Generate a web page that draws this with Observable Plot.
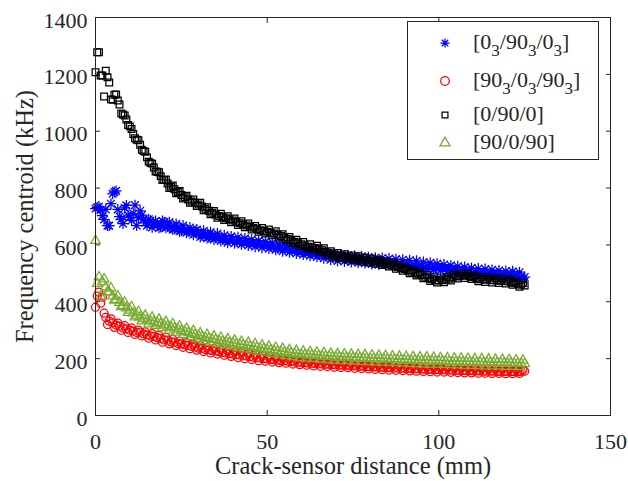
<!DOCTYPE html>
<html>
<head>
<meta charset="utf-8">
<script src="https://cdn.jsdelivr.net/npm/d3@7"></script>
<script src="https://cdn.jsdelivr.net/npm/@observablehq/plot@0.6"></script>
<style>
  html, body { margin: 0; padding: 0; background: #ffffff; }
  #chart { width: 628px; height: 481px; position: relative; }
</style>
</head>
<body>
<div id="chart"></div>
<script>
// ---------- data ----------
// sample positions (mm): whole millimetres and the half-millimetre samples between them
const distance = [0,1,2,3,4,5,6,7,8,9,10,11,12,13,14,15,16,17,18,19,20,21,22,23,24,25,26,27,28,29,30,31,32,33,34,35,36,37,38,39,40,41,42,43,44,45,46,47,48,49,50,51,52,53,54,55,56,57,58,59,60,61,62,63,64,65,66,67,68,69,70,71,72,73,74,75,76,77,78,79,80,81,82,83,84,85,86,87,88,89,90,91,92,93,94,95,96,97,98,99,100,101,102,103,104,105,106,107,108,109,110,111,112,113,114,115,116,117,118,119,120,121,122,123,124,125];
const distanceHalf = [0.5,1.5,2.5,3.5,4.5,5.5,6.5,7.5,8.5,9.5,10.5,11.5,12.5,13.5,14.5,15.5,16.5,17.5,18.5,19.5,20.5,21.5,22.5,23.5,24.5,25.5,26.5,27.5,28.5,29.5,30.5,31.5,32.5,33.5,34.5,35.5,36.5,37.5,38.5,39.5,40.5,41.5,42.5,43.5,44.5,45.5,46.5,47.5,48.5,49.5,50.5,51.5,52.5,53.5,54.5,55.5,56.5,57.5,58.5,59.5,60.5,61.5,62.5,63.5,64.5,65.5,66.5,67.5,68.5,69.5,70.5,71.5,72.5,73.5,74.5,75.5,76.5,77.5,78.5,79.5,80.5,81.5,82.5,83.5,84.5,85.5,86.5,87.5,88.5,89.5,90.5,91.5,92.5,93.5,94.5,95.5,96.5,97.5,98.5,99.5,100.5,101.5,102.5,103.5,104.5,105.5,106.5,107.5,108.5,109.5,110.5,111.5,112.5,113.5,114.5,115.5,116.5,117.5,118.5,119.5,120.5,121.5,122.5,123.5,124.5];

// [0_3/90_3/0_3]  (kHz)
const seriesA = [728,735,703,725,668,780,790,700,675,739,697,710,668,720,690,668,685,672,675,663,680,668,660,657,662,650,655,648,645,650,640,633,638,627,630,625,628,620,622,617,619,613,615,610,612,606,608,603,605,600,601,596,594,589,591,586,588,582,583,578,579,574,575,570,571,566,567,562,560,557,555,556,552,553,549,550,547,548,545,546,543,544,541,540,538,539,535,536,532,533,530,531,527,528,525,526,522,523,520,521,517,518,514,515,511,512,509,510,506,507,503,504,501,502,499,500,497,498,495,496,494,495,491,492,489,487];
const seriesAHalf = [732,722,690,668,745,786,725,690,730,705,686,740,695,705,678,690,662,684,660,684,660,680,654,674,648,668,643,661,636,654,628,650,624,645,619,640,614,634,608,630,606,627,602,623,598,619,594,615,590,612,587,608,583,603,578,598,574,594,570,590,566,586,562,582,558,577,553,573,548,568,544,566,542,564,540,562,538,560,536,557,533,555,531,554,530,552,528,550,526,548,524,546,522,544,520,540,516,537,513,534,510,531,507,528,504,525,501,522,498,519,495,517,493,515,491,512,489,510,487,508,486,507,484,504,482];
// [90_3/0_3/90_3]
const seriesB = [381,434,416,345,332,326,318,314,308,305,300,297,292,293,287,284,280,278,274,271,266,265,259,258,253,252,248,247,243,241,237,236,232,231,228,227,224,222,220,218,216,214,213,210,209,207,205,203,202,200,199,197,196,195,193,193,191,190,189,187,187,186,184,184,183,182,181,180,180,179,178,177,177,176,175,175,174,173,173,172,171,171,170,170,169,168,168,167,167,166,166,165,165,164,164,163,163,162,162,161,161,161,160,160,159,159,159,158,158,158,157,157,157,156,156,156,156,155,155,155,155,154,154,154,155,156];
const seriesBHalf = [420,395,360,320,340,310,325,300,316,292,308,285,300,280,294,272,288,266,282,258,275,252,268,246,262,240,256,235,251,230,246,225,240,220,236,216,232,212,228,208,224,204,221,200,217,197,213,193,210,191,207,188,204,186,201,184,199,181,196,179,194,177,192,175,190,173,189,172,187,170,186,169,184,168,183,166,182,165,180,164,179,162,178,161,177,160,176,159,175,158,174,157,173,156,172,155,171,154,170,153,169,153,168,152,167,151,167,150,166,150,165,149,165,149,164,148,164,148,163,147,163,147,162,148,160];
// [0/90/0]
const seriesC = [1207,1278,1196,1213,1171,1111,1129,1094,1059,1041,1017,990,970,952,930,908,888,872,857,842,828,816,805,796,786,776,768,760,753,748,742,735,727,720,713,707,702,698,694,690,686,681,676,672,668,664,660,656,652,649,646,643,640,636,631,626,621,616,611,606,602,598,594,591,589,587,581,575,571,567,564,562,560,558,556,555,553,551,549,547,545,543,541,538,536,534,530,526,522,519,515,511,506,502,498,494,488,483,479,476,475,476,478,481,485,489,491,492,492,490,486,482,479,478,478,477,476,475,474,473,472,469,466,463,460,457];
const seriesCHalf = [1278,1196,1122,1190,1112,1128,1108,1062,1055,1022,1008,975,968,935,928,893,886,858,856,828,830,800,809,782,790,763,773,748,760,737,748,722,733,708,719,696,710,688,701,680,693,670,683,662,675,654,667,646,660,640,654,634,648,626,638,616,628,606,618,596,610,588,602,582,597,576,588,565,578,557,572,553,567,549,563,546,560,542,556,538,552,534,548,529,543,524,536,516,529,509,521,500,512,492,504,483,494,473,486,468,483,469,487,475,495,482,499,484,499,480,492,472,486,470,485,468,483,466,481,464,478,460,472,453,466];
// [90/0/90]
const seriesD = [615,487,470,452,434,420,408,397,387,378,370,360,352,346,340,336,332,329,326,322,318,314,311,307,304,298,295,291,288,284,280,277,274,271,268,266,263,261,258,256,254,251,249,247,245,243,241,239,236,234,232,230,228,226,224,222,220,219,217,215,214,213,213,212,211,210,209,208,207,206,205,205,204,204,203,203,202,202,201,201,200,200,199,199,198,198,197,197,196,196,195,195,194,194,193,193,193,192,192,191,191,191,190,190,189,189,189,188,188,188,187,187,187,186,186,186,185,185,185,184,184,184,183,183,183,182];
const seriesDHalf = [464,420,480,435,448,405,420,382,398,362,382,346,365,332,352,322,345,316,338,308,330,300,322,293,314,284,306,277,298,270,290,263,284,257,279,252,274,247,269,243,264,238,260,234,256,230,252,226,247,222,243,218,239,214,235,210,231,206,228,203,226,201,224,200,222,198,220,196,218,194,217,193,216,192,215,191,214,190,213,189,212,188,211,187,210,186,209,185,208,184,207,183,206,182,205,181,205,180,204,179,203,179,202,178,201,177,201,176,200,176,199,175,199,174,198,174,197,173,197,172,196,172,195,171,194];

const xTicks = [0, 50, 100, 150];
const yTicks = [0, 200, 400, 600, 800, 1000, 1200, 1400];
const xLabel = "Crack-sensor distance (mm)";
const yLabel = "Frequency centroid (kHz)";

// legend labels: [text, isSubscript] parts
const legendLabels = [
  [["[0", 0], ["3", 1], ["/90", 0], ["3", 1], ["/0", 0], ["3", 1], ["]", 0]],
  [["[90", 0], ["3", 1], ["/0", 0], ["3", 1], ["/90", 0], ["3", 1], ["]", 0]],
  [["[0/90/0]", 0]],
  [["[90/0/90]", 0]]
];
const colors = ["#0000ff", "#ff0000", "#000000", "#77ac30"];

// ---------- symbols ----------
const asterisk8 = {
  draw(ctx, size) {
    const r = Math.sqrt(size / Math.PI);
    const d = r * Math.SQRT1_2;
    ctx.moveTo(-r, 0); ctx.lineTo(r, 0);
    ctx.moveTo(0, -r); ctx.lineTo(0, r);
    ctx.moveTo(-d, -d); ctx.lineTo(d, d);
    ctx.moveTo(-d, d); ctx.lineTo(d, -d);
  }
};
const symbols = [asterisk8, d3.symbolCircle, d3.symbolSquare, d3.symbolTriangle];
const radii = [5.5, 4, 3.8, 3.6];
const series = [[seriesA, seriesAHalf], [seriesB, seriesBHalf], [seriesC, seriesCHalf], [seriesD, seriesDHalf]];

const ink = "#262626";
const font = "'Liberation Serif', 'Times New Roman', serif";

const dotMarks = series.flatMap(([whole, half], i) => [
  Plot.dot(distance, { x: distance, y: whole, symbol: symbols[i], r: radii[i], stroke: colors[i], fill: "none", strokeWidth: 1.25 }),
  Plot.dot(distanceHalf, { x: distanceHalf, y: half, symbol: symbols[i], r: radii[i], stroke: colors[i], fill: "none", strokeWidth: 1.25 })
]);

const plot = Plot.plot({
  width: 628,
  height: 481,
  marginLeft: 95,
  marginRight: 18,
  marginTop: 17,
  marginBottom: 66,
  style: { fontFamily: font, fontSize: "22px", color: ink, background: "#ffffff", overflow: "visible" },
  x: { domain: [0, 150], axis: null },
  y: { domain: [0, 1400], axis: null },
  marks: [
    ...dotMarks,
    Plot.frame({ stroke: ink, strokeWidth: 1 }),
    // tick labels
    Plot.axisX(xTicks, { anchor: "bottom", tickSize: 0, tickPadding: 18, fontSize: 22, label: null, fill: ink, tickFormat: d => String(d) }),
    Plot.axisY(yTicks, { anchor: "left", tickSize: 0, tickPadding: 8, dy: 3, fontSize: 22, label: null, fill: ink, tickFormat: d => String(d) }),
    // inward ticks on all sides
    Plot.axisX(xTicks, { anchor: "bottom", tickSize: -5, tickFormat: () => "", label: null, stroke: ink }),
    Plot.axisX(xTicks, { anchor: "top", tickSize: -5, tickFormat: () => "", label: null, stroke: ink }),
    Plot.axisY(yTicks, { anchor: "left", tickSize: -5, tickFormat: () => "", label: null, stroke: ink }),
    Plot.axisY(yTicks, { anchor: "right", tickSize: -5, tickFormat: () => "", label: null, stroke: ink }),
    // axis titles
    Plot.text([xLabel], { frameAnchor: "bottom", dy: 51, fontSize: 24.5, fill: ink, textAnchor: "middle", lineAnchor: "middle" }),
    Plot.text([yLabel], { frameAnchor: "left", dx: -70, rotate: -90, fontSize: 24.5, fill: ink, textAnchor: "middle", lineAnchor: "middle" })
  ]
});

// ---------- legend (inside the axes, top right) ----------
const svg = d3.select(plot);
const lg = svg.append("g")
  .attr("font-family", font).attr("font-size", 22).attr("fill", ink)
  .attr("text-anchor", "start");
lg.append("rect")
  .attr("x", 407.5).attr("y", 21.5).attr("width", 191).attr("height", 138)
  .attr("fill", "#ffffff").attr("stroke", ink).attr("stroke-width", 1);
const rowY = [43, 81, 115, 143];
const legendR = [4.6, 4.3, 3.3, 3.8];
legendLabels.forEach((parts, i) => {
  lg.append("path")
    .attr("transform", `translate(445,${rowY[i]})`)
    .attr("d", d3.symbol().type(symbols[i]).size(Math.PI * legendR[i] * legendR[i])())
    .attr("fill", "none").attr("stroke", colors[i]).attr("stroke-width", 1.25);
  const t = lg.append("text").attr("x", 473).attr("y", rowY[i] + 6).attr("text-anchor", "start");
  let shifted = false;
  parts.forEach(([s, sub]) => {
    const ts = t.append("tspan").text(s);
    if (sub) {
      ts.attr("font-size", 17);
      if (!shifted) { ts.attr("dy", 7); shifted = true; }
    } else if (shifted) {
      ts.attr("dy", -7); shifted = false;
    }
  });
});

document.getElementById("chart").appendChild(plot);
</script>
</body>
</html>
